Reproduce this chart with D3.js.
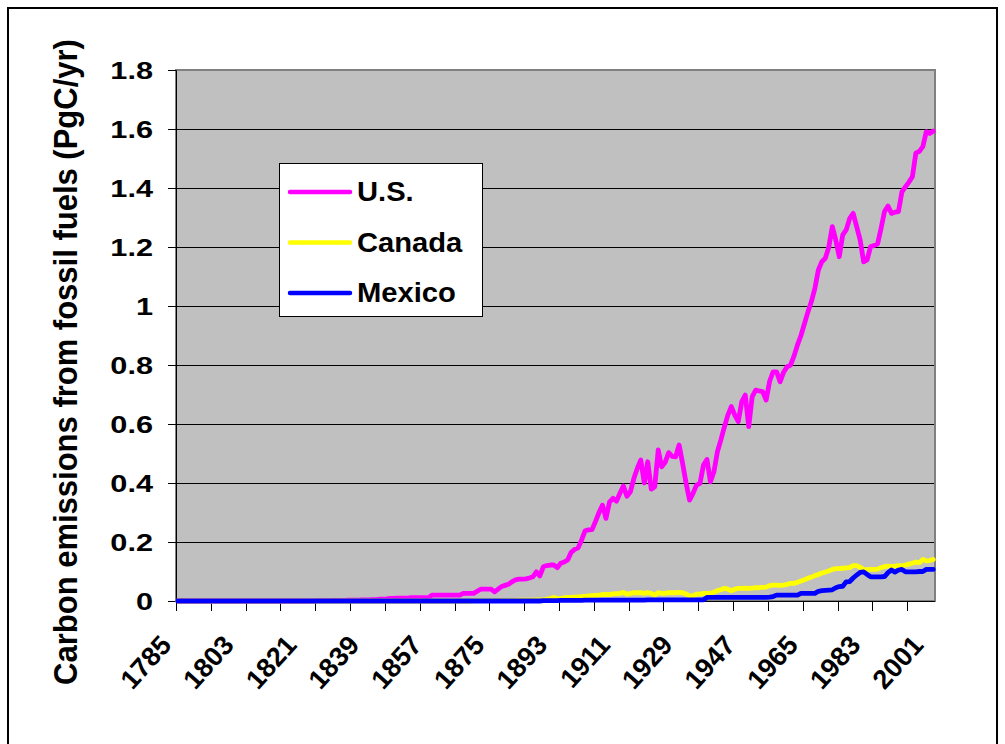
<!DOCTYPE html>
<html>
<head>
<meta charset="utf-8">
<script src="https://cdn.jsdelivr.net/npm/d3@7"></script>
<style>
  html, body { margin: 0; padding: 0; background: #ffffff; }
  svg { display: block; }
  text { font-family: "Liberation Sans", Arial, sans-serif; font-weight: bold; fill: #000; }
</style>
</head>
<body>
<svg id="chart" width="1005" height="744"></svg>
<script>
// ---------------- DATA ----------------
const firstYear = 1785;
const lastYear = 2002;
const years = d3.range(firstYear, lastYear + 1);

const seriesNames = ["U.S.", "Canada", "Mexico"];
const seriesColors = ["#FF00FF", "#FFFF00", "#0000FF"];

const yTicks = [0, 0.2, 0.4, 0.6, 0.8, 1, 1.2, 1.4, 1.6, 1.8];
const yTickLabels = ["0", "0.2", "0.4", "0.6", "0.8", "1", "1.2", "1.4", "1.6", "1.8"];
const xTickLabels = ["1785", "1803", "1821", "1839", "1857", "1875", "1893", "1911", "1929", "1947", "1965", "1983", "2001"];
const yTitle = "Carbon emissions from fossil fuels (PgC/yr)";

// PgC/yr, one value per year 1785..2002
const usValues = [
  0,0,0,0,0,                                                  // 1785-1789
  0,0,0,0,0,0,0,0,0,0,                                        // 1790s
  0,0,0,0,0,0,0,0,0,0,                                        // 1800s
  0,0,0,0,0,0,0,0,0,0,                                        // 1810s
  0,0,0,0,0,0.001,0.001,0.001,0.001,0.001,                    // 1820s
  0.002,0.002,0.002,0.002,0.003,0.003,0.003,0.003,0.004,0.004,// 1830s
  0.004,0.005,0.005,0.006,0.006,0.007,0.009,0.009,0.010,0.010,// 1840s
  0.010,0.010,0.011,0.011,0.011,0.011,0.011,0.011,0.020,0.020,// 1850s
  0.020,0.020,0.020,0.020,0.020,0.020,0.020,0.026,0.026,0.026,// 1860s
  0.026,0.033,0.040,0.040,0.040,0.040,0.031,0.040,0.049,0.053,// 1870s
  0.057,0.065,0.072,0.074,0.074,0.075,0.078,0.082,0.099,0.085,// 1880s
  0.116,0.120,0.122,0.122,0.113,0.128,0.132,0.139,0.165,0.175,// 1890s
  0.180,0.207,0.238,0.241,0.242,0.270,0.300,0.325,0.280,0.335,// 1900s
  0.348,0.338,0.365,0.390,0.355,0.370,0.415,0.450,0.478,0.400,// 1910s
  0.472,0.379,0.387,0.512,0.455,0.470,0.503,0.490,0.489,0.529,// 1920s
  0.467,0.400,0.342,0.365,0.393,0.399,0.461,0.480,0.404,0.438,// 1930s
  0.506,0.546,0.590,0.630,0.659,0.630,0.608,0.676,0.698,0.591,// 1940s
  0.693,0.715,0.712,0.710,0.681,0.745,0.777,0.777,0.743,0.775,// 1950s
  0.794,0.800,0.830,0.868,0.900,0.940,0.980,1.015,1.060,1.122,// 1960s
  1.150,1.162,1.200,1.269,1.224,1.167,1.241,1.258,1.297,1.314,// 1970s
  1.269,1.224,1.150,1.156,1.201,1.205,1.210,1.263,1.320,1.339,// 1980s
  1.314,1.318,1.320,1.387,1.404,1.420,1.438,1.518,1.524,1.540,// 1990s
  1.591,1.585,1.593                                           // 2000-2002
];

const canadaValues = [
  0,0,0,0,0,                                                  // 1785-1789
  0,0,0,0,0,0,0,0,0,0,                                        // 1790s
  0,0,0,0,0,0,0,0,0,0,                                        // 1800s
  0,0,0,0,0,0,0,0,0,0,                                        // 1810s
  0,0,0,0,0,0,0,0,0,0,                                        // 1820s
  0,0,0,0,0,0,0,0,0,0,                                        // 1830s
  0,0,0,0,0,0,0,0,0,0,                                        // 1840s
  0,0,0,0,0,0,0,0,0,0,                                        // 1850s
  0,0,0,0,0,0,0,0,0,0,                                        // 1860s
  0.001,0.001,0.001,0.001,0.001,0.001,0.001,0.001,0.001,0.001,// 1870s
  0.002,0.002,0.002,0.003,0.003,0.003,0.003,0.003,0.004,0.004,// 1880s
  0.004,0.006,0.008,0.012,0.008,0.009,0.011,0.012,0.012,0.013,// 1890s
  0.014,0.015,0.016,0.017,0.018,0.019,0.020,0.022,0.022,0.022,// 1900s
  0.024,0.025,0.026,0.029,0.023,0.026,0.028,0.028,0.028,0.026,// 1910s
  0.028,0.026,0.020,0.028,0.026,0.026,0.028,0.028,0.028,0.029,// 1920s
  0.028,0.024,0.017,0.018,0.023,0.023,0.026,0.026,0.026,0.030,// 1930s
  0.035,0.038,0.043,0.040,0.035,0.040,0.043,0.043,0.044,0.043,// 1940s
  0.044,0.045,0.045,0.046,0.047,0.052,0.054,0.054,0.053,0.054,// 1950s
  0.056,0.060,0.060,0.063,0.068,0.072,0.077,0.081,0.086,0.090,// 1960s
  0.095,0.098,0.102,0.107,0.110,0.110,0.111,0.112,0.113,0.120,// 1970s
  0.120,0.114,0.107,0.106,0.107,0.107,0.108,0.113,0.117,0.118,// 1980s
  0.117,0.118,0.120,0.119,0.122,0.125,0.128,0.132,0.130,0.141,// 1990s
  0.136,0.137,0.141                                           // 2000-2002
];

const mexicoValues = [
  0,0,0,0,0,                                                  // 1785-1789
  0,0,0,0,0,0,0,0,0,0,                                        // 1790s
  0,0,0,0,0,0,0,0,0,0,                                        // 1800s
  0,0,0,0,0,0,0,0,0,0,                                        // 1810s
  0,0,0,0,0,0,0,0,0,0,                                        // 1820s
  0,0,0,0,0,0,0,0,0,0,                                        // 1830s
  0,0,0,0,0,0,0,0,0,0,                                        // 1840s
  0,0,0,0,0,0,0,0,0,0,                                        // 1850s
  0,0,0,0,0,0,0,0,0,0,                                        // 1860s
  0,0,0,0,0,0,0,0,0,0,                                        // 1870s
  0,0,0,0,0,0,0,0,0,0,                                        // 1880s
  0.001,0.001,0.001,0.001,0.001,0.002,0.002,0.002,0.002,0.002,// 1890s
  0.002,0.002,0.003,0.003,0.003,0.003,0.003,0.003,0.003,0.003,// 1900s
  0.003,0.003,0.003,0.003,0.003,0.003,0.003,0.003,0.003,0.003,// 1910s
  0.004,0.004,0.004,0.004,0.004,0.004,0.004,0.004,0.004,0.004,// 1920s
  0.004,0.004,0.004,0.004,0.004,0.004,0.004,0.012,0.012,0.012,// 1930s
  0.012,0.012,0.012,0.012,0.012,0.012,0.012,0.012,0.012,0.012,// 1940s
  0.012,0.012,0.012,0.012,0.012,0.013,0.015,0.020,0.020,0.020,// 1950s
  0.020,0.020,0.020,0.020,0.026,0.026,0.026,0.026,0.026,0.033,// 1960s
  0.035,0.036,0.037,0.038,0.045,0.049,0.050,0.065,0.066,0.078,// 1970s
  0.088,0.097,0.099,0.090,0.082,0.082,0.082,0.082,0.083,0.096,// 1980s
  0.105,0.098,0.105,0.107,0.099,0.099,0.099,0.099,0.100,0.100,// 1990s
  0.107,0.107,0.107                                           // 2000-2002
];

const seriesValues = [usValues, canadaValues, mexicoValues];

// ---------------- LAYOUT ----------------
const plot = { left: 176, right: 935, top: 70, bottom: 601 };
const tickMarkEvery = 10;      // categories between tick marks

const svg = d3.select("#chart");

// chart area frame
svg.append("rect")
  .attr("x", 8).attr("y", 8).attr("width", 989).attr("height", 770)
  .attr("fill", "#ffffff").attr("stroke", "#000").attr("stroke-width", 2);

const x = d3.scaleBand().domain(years).range([plot.left, plot.right]).paddingInner(0).paddingOuter(0);
const y = d3.scaleLinear().domain([0, 1.8]).range([plot.bottom, plot.top]);
const xc = yr => x(yr) + x.bandwidth() / 2;

// plot background
svg.append("rect")
  .attr("x", plot.left).attr("y", plot.top)
  .attr("width", plot.right - plot.left).attr("height", plot.bottom - plot.top)
  .attr("fill", "#C0C0C0");

// gridlines
svg.append("g")
  .selectAll("line").data(yTicks.filter(v => v > 0)).join("line")
  .attr("x1", plot.left).attr("x2", plot.right)
  .attr("y1", d => Math.round(y(d)) + 0.5).attr("y2", d => Math.round(y(d)) + 0.5)
  .attr("stroke", "#000").attr("stroke-width", 1);

// plot border (gray)
svg.append("rect")
  .attr("x", plot.left).attr("y", plot.top)
  .attr("width", plot.right - plot.left).attr("height", plot.bottom - plot.top)
  .attr("fill", "none").attr("stroke", "#808080").attr("stroke-width", 2);

// Y axis
const yAxis = d3.axisLeft(y).tickValues(yTicks).tickSize(8).tickFormat("");
const gy = svg.append("g").attr("transform", `translate(${plot.left},0)`).call(yAxis);
gy.select(".domain").attr("stroke", "#000").attr("stroke-width", 1);
gy.selectAll(".tick line").attr("stroke", "#000");

const ySx = 1.28;
svg.append("g").selectAll("text").data(yTicks).join("text")
  .attr("text-anchor", "end")
  .attr("font-size", 24)
  .attr("transform", (d) => `translate(153,${y(d) + 8.5}) scale(${ySx},1)`)
  .text((d, i) => yTickLabels[i]);

// X axis
const xTickYears = years.filter((yr, i) => i % tickMarkEvery === 0);
const gx = svg.append("g").attr("transform", `translate(0,${plot.bottom})`);
gx.append("line")
  .attr("x1", plot.left).attr("x2", plot.right).attr("y1", 0.5).attr("y2", 0.5)
  .attr("stroke", "#000").attr("stroke-width", 1);
gx.selectAll("line.tk").data(xTickYears).join("line").attr("class", "tk")
  .attr("x1", d => Math.round(x(d)) + 0.5).attr("x2", d => Math.round(x(d)) + 0.5)
  .attr("y1", 0).attr("y2", 10)
  .attr("stroke", "#000").attr("stroke-width", 1);

svg.append("g").selectAll("text").data(xTickLabels).join("text")
  .attr("text-anchor", "end")
  .attr("font-size", 27)
  .attr("transform", d => `translate(${xc(+d) - 5},646) rotate(-48)`)
  .text(d => d);

// Y title
svg.append("text")
  .attr("text-anchor", "middle")
  .attr("font-size", 31)
  .attr("transform", `translate(77,362) scale(1.1,1) rotate(-90)`)
  .text(yTitle);

// series lines
const line = d3.line().x((d, i) => xc(years[i])).y(d => y(d));
svg.append("g").selectAll("path").data(seriesValues).join("path")
  .attr("d", d => line(d))
  .attr("fill", "none")
  .attr("stroke", (d, i) => seriesColors[i])
  .attr("stroke-width", 4.8)
  .attr("stroke-linejoin", "round")
  .attr("stroke-linecap", "round");

// legend
const lg = svg.append("g");
lg.append("rect")
  .attr("x", 279.5).attr("y", 163.5).attr("width", 203).attr("height", 153)
  .attr("fill", "#ffffff").attr("stroke", "#000").attr("stroke-width", 1);
seriesNames.forEach((name, i) => {
  const cy = 192 + i * 50.5;
  lg.append("line")
    .attr("x1", 290).attr("x2", 350).attr("y1", cy).attr("y2", cy)
    .attr("stroke", seriesColors[i]).attr("stroke-width", 4.5).attr("stroke-linecap", "round");
  lg.append("text")
    .attr("font-size", 27)
    .attr("transform", `translate(357,${cy + 9}) scale(1.08,1)`)
    .text(name);
});
</script>
</body>
</html>
